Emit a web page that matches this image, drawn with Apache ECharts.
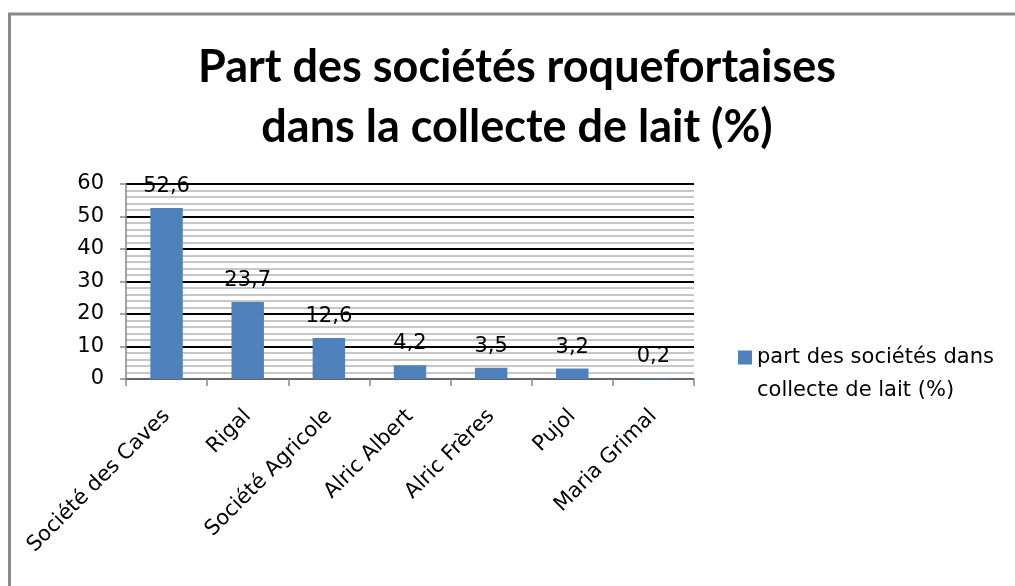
<!DOCTYPE html>
<html>
<head>
<meta charset="utf-8">
<script src="https://cdn.jsdelivr.net/npm/echarts@6/dist/echarts.min.js"></script>
<style>
html,body{margin:0;padding:0;background:#fff;}
#chart{width:1015px;height:586px;}
</style>
</head>
<body>
<div id="chart"></div>
<script>
const titleLines = ["Part des sociétés roquefortaises", "dans la collecte de lait (%)"];
const categories = ["Société des Caves", "Rigal", "Société Agricole", "Alric Albert", "Alric Frères", "Pujol", "Maria Grimal"];
const seriesName = "part des sociétés dans collecte de lait (%)";
const legendLines = ["part des sociétés dans", "collecte de lait (%)"];
const values = [52.6, 23.7, 12.6, 4.2, 3.5, 3.2, 0.2];
const yTicks = [0, 10, 20, 30, 40, 50, 60];

const chart = echarts.init(document.getElementById('chart'), null, {renderer: 'canvas'});
const baseFont = "'DejaVu Sans', 'Open Sans', sans-serif";
const fs = 21;
chart.setOption({
  backgroundColor: '#fff',
  animation: false,
  title: {
    text: titleLines.join('\n'),
    left: 517,
    top: 37,
    padding: 0,
    textAlign: 'center',
    textStyle: {
      fontFamily: "'Lato', sans-serif",
      fontWeight: 'bold',
      fontSize: 45,
      lineHeight: 60,
      color: '#000'
    }
  },
  graphic: [{
    type: 'rect',
    shape: {x: 9.5, y: 14, width: 1100, height: 700},
    style: {fill: 'none', stroke: '#8a8a8a', lineWidth: 3},
    silent: true,
    z: 100
  }],
  legend: {
    left: 738,
    top: 341,
    padding: 0,
    icon: 'path://M0,0L14,0L14,14L0,14Z M0,47L0,47',
    itemWidth: 14,
    itemHeight: 47,
    itemGap: 0,
    data: [seriesName],
    formatter: function () { return legendLines.join('\n'); },
    textStyle: {
      fontFamily: baseFont,
      fontSize: fs,
      lineHeight: 33,
      color: '#000'
    }
  },
  grid: {left: 126, right: 321, top: 184, bottom: 207, containLabel: false},
  xAxis: {
    type: 'category',
    data: categories,
    axisLine: {show: true, lineStyle: {color: '#868686', width: 1.5}},
    axisTick: {show: true, length: 7, lineStyle: {color: '#868686', width: 1.5}},
    axisLabel: {
      rotate: 45,
      interval: 0,
      margin: 34,
      fontFamily: baseFont,
      fontSize: fs,
      color: '#000'
    },
    splitLine: {show: false}
  },
  yAxis: {
    type: 'value',
    min: yTicks[0],
    max: yTicks[yTicks.length - 1],
    interval: 10,
    axisLine: {show: true, lineStyle: {color: '#868686', width: 1.5}},
    axisTick: {show: true, length: 6, lineStyle: {color: '#868686', width: 1.5}},
    axisLabel: {
      margin: 22,
      fontFamily: baseFont,
      fontSize: fs,
      color: '#000'
    },
    splitLine: {show: true, lineStyle: {color: '#000', width: 1.8}},
    minorTick: {show: false, splitNumber: 5},
    minorSplitLine: {show: true, lineStyle: {color: '#b4b4b4', width: 1.6}}
  },
  series: [{
    name: seriesName,
    type: 'bar',
    data: values,
    barWidth: '40%',
    itemStyle: {color: '#4F81BD'},
    z: 3,
    label: {
      show: true,
      position: 'top',
      distance: 11,
      fontFamily: baseFont,
      fontSize: fs,
      color: '#000',
      formatter: function (p) { return String(p.value).replace('.', ','); }
    }
  }]
});
</script>
</body>
</html>
